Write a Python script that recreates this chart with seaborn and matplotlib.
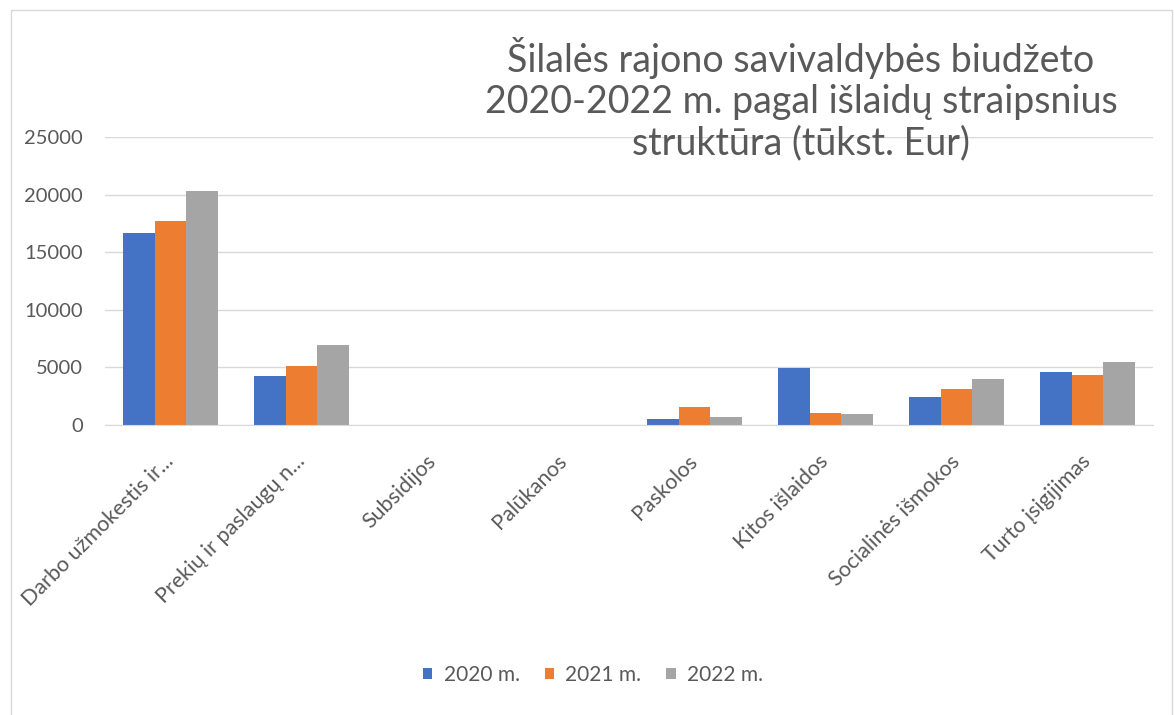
import pandas as pd
import numpy as np
import matplotlib.pyplot as plt
import seaborn as sns
from matplotlib.patches import Rectangle

# Data (thousand EUR)
categories = ['Darbo užmokestis ir...', 'Prekių ir paslaugų n...', 'Subsidijos', 'Palūkanos',
              'Paskolos', 'Kitos išlaidos', 'Socialinės išmokos', 'Turto įsigijimas']
years = ['2020 m.', '2021 m.', '2022 m.']
v2020 = [16700, 4280, 0, 0, 550, 4950, 2460, 4600]
v2021 = [17730, 5150, 0, 0, 1590, 1070, 3150, 4300]
v2022 = [20340, 6920, 0, 0, 720, 930, 4020, 5500]
colors = ['#4472C4', '#ED7D31', '#A5A5A5']

# Long-form table for seaborn
df = pd.DataFrame({
    'Kategorija': categories * 3,
    'Metai': [years[0]] * 8 + [years[1]] * 8 + [years[2]] * 8,
    'Suma': v2020 + v2021 + v2022,
})

sns.set_style('white')
plt.rcParams['font.family'] = ['Lato', 'DejaVu Sans']
text_col = '#595959'

fig = plt.figure(figsize=(11.74, 7.15), dpi=100)
ax = fig.add_axes([105 / 1174, 1 - 425 / 715, 1048 / 1174, 288 / 715])

sns.barplot(data=df, x='Kategorija', y='Suma', hue='Metai', palette=colors,
            width=0.72, gap=0, ax=ax, saturation=1, linewidth=0, legend=True)

ax.set_ylim(0, 25000)
ax.set_yticks(np.arange(0, 25001, 5000))
ax.yaxis.grid(True, color='#D9D9D9', linewidth=1)
ax.set_axisbelow(True)
for s in ['top', 'right', 'left']:
    ax.spines[s].set_visible(False)
ax.spines['bottom'].set_color('#D9D9D9')
ax.tick_params(axis='both', length=0, labelcolor=text_col)
ax.tick_params(axis='y', pad=16, labelsize=14.5)
ax.tick_params(axis='x', pad=24, labelsize=15.5)
ax.set_xlabel('')
ax.set_ylabel('')
plt.setp(ax.get_xticklabels(), rotation=45, ha='right', va='center', rotation_mode='anchor')
for lbl in ax.get_xticklabels():
    lbl.set_x(lbl.get_position()[0])

# Title
fig.text(801 / 1174, 1 - 37 / 715,
         'Šilalės rajono savivaldybės biudžeto\n2020-2022 m. pagal išlaidų straipsnius\nstruktūra (tūkst. Eur)',
         ha='center', va='top', fontsize=27, color=text_col, linespacing=1.17)

# Legend at the bottom
handles, labels = ax.get_legend_handles_labels()
ax.get_legend().remove()
fig.legend(handles, labels, loc='center', bbox_to_anchor=(593 / 1174, 1 - 675 / 715), ncol=3,
           frameon=False, fontsize=15, labelcolor=text_col, handlelength=0.45,
           handleheight=0.45, handletextpad=0.55, columnspacing=1.2)

# Chart area border
fig.add_artist(Rectangle((11 / 1174, -0.01), 1161 / 1174, 1 - 10 / 715 + 0.01,
                         transform=fig.transFigure, fill=False, edgecolor='#D9D9D9', linewidth=1))

fig.savefig('out.png', dpi=100)
